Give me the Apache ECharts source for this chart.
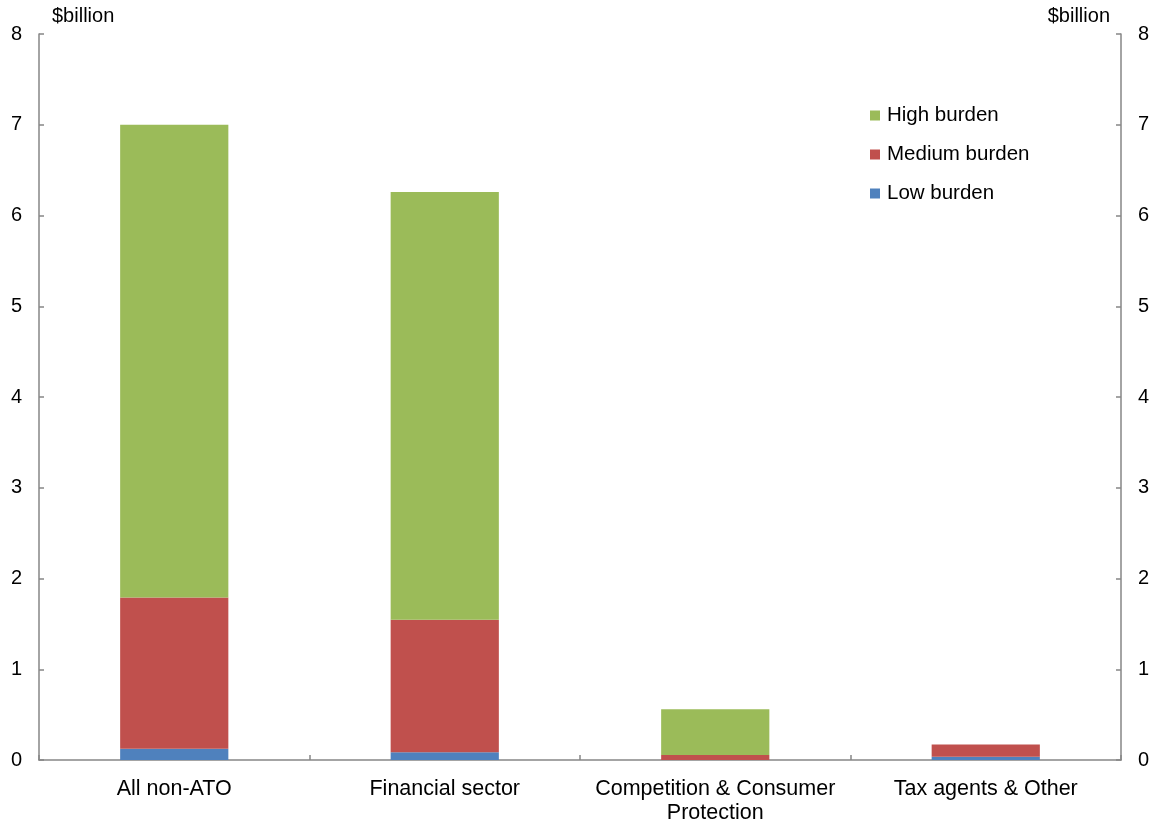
<!DOCTYPE html>
<html>
<head>
<meta charset="utf-8">
<script src="https://cdn.jsdelivr.net/npm/echarts@6/dist/echarts.min.js"></script>
<style>
  html, body { margin: 0; padding: 0; background: #fff; }
  #main { width: 1159px; height: 825px; }
</style>
</head>
<body>
<div id="main"></div>
<script>
// categories and stacked values ($billion)
var categories = ['All non-ATO', 'Financial sector', 'Competition & Consumer\nProtection', 'Tax agents & Other'];
var lowBurden = [0.125, 0.085, 0, 0.035];
var mediumBurden = [1.665, 1.46, 0.055, 0.135];
var highBurden = [5.21, 4.715, 0.505, 0];
var yTicks = [0, 1, 2, 3, 4, 5, 6, 7, 8];

var chart = echarts.init(document.getElementById('main'));

var axisGrey = '#868686';
var font = 'Liberation Sans, Arial, sans-serif';

function valueAxis(pos) {
  return {
    type: 'value',
    position: pos,
    min: yTicks[0],
    max: yTicks[yTicks.length - 1],
    interval: 1,
    name: '$billion',
    nameLocation: 'end',
    nameGap: 8,
    nameTextStyle: {
      color: '#000', fontSize: 20, fontFamily: font,
      align: pos === 'left' ? 'left' : 'right',
      padding: pos === 'left' ? [0, 0, 0, 13] : [0, 11, 0, 0]
    },
    axisLine: { show: true, lineStyle: { color: axisGrey, width: 1.5 } },
    axisTick: { show: true, inside: true, length: 5, lineStyle: { color: axisGrey, width: 1.5 } },
    axisLabel: { color: '#000', fontSize: 20, fontFamily: font, margin: 17 },
    splitLine: { show: false }
  };
}

chart.setOption({
  animation: false,
  grid: { left: 39, right: 38, top: 34, bottom: 65 },
  legend: {
    orient: 'vertical',
    left: 865,
    top: 100,
    itemWidth: 10,
    itemHeight: 10,
    itemGap: 18,
    icon: 'rect',
    data: ['High burden', 'Medium burden', 'Low burden'],
    textStyle: { color: '#000', fontSize: 20.5, fontFamily: font, padding: [0, 0, 0, 2] }
  },
  xAxis: {
    type: 'category',
    data: categories,
    axisLine: { lineStyle: { color: axisGrey, width: 1.5 } },
    axisTick: { show: true, inside: true, interval: 0, length: 5, lineStyle: { color: axisGrey, width: 1.5 } },
    axisLabel: { interval: 0, color: '#000', fontSize: 21.5, fontFamily: font, margin: 17, lineHeight: 24 }
  },
  yAxis: [valueAxis('left'), valueAxis('right')],
  series: [
    { name: 'Low burden', type: 'bar', stack: 'b', barWidth: '40%', data: lowBurden, itemStyle: { color: '#4F81BD' } },
    { name: 'Medium burden', type: 'bar', stack: 'b', barWidth: '40%', data: mediumBurden, itemStyle: { color: '#C0504D' } },
    { name: 'High burden', type: 'bar', stack: 'b', barWidth: '40%', data: highBurden, itemStyle: { color: '#9BBB59' } }
  ]
});
</script>
</body>
</html>
